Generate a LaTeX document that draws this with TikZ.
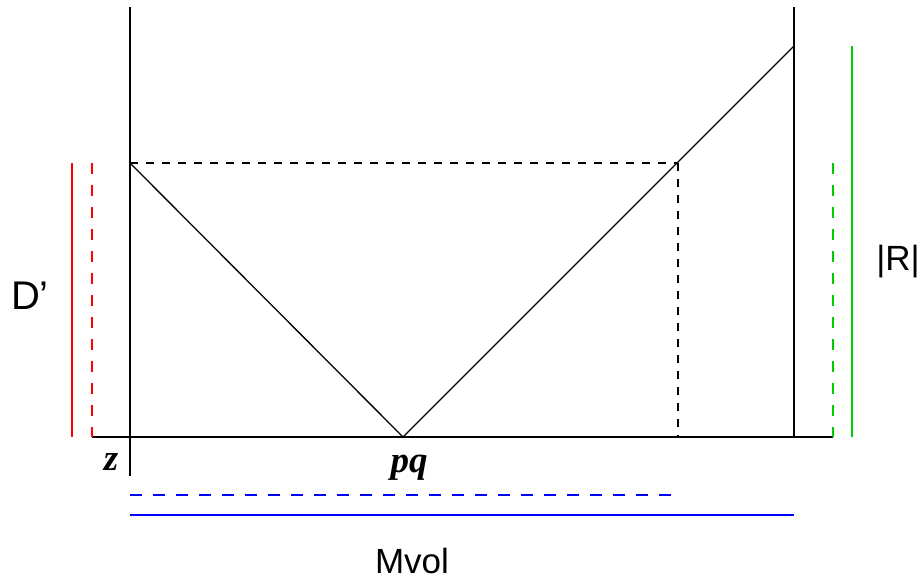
\documentclass[tikz,border=0pt]{standalone}
\usepackage{fontspec}
\setmainfont{Liberation Sans}
\newfontfamily\serifit{Liberation Serif}
\tikzset{
  blk/.style={line width=1.8pt, black},
  thin/.style={line width=1.3pt, black},
  blkdash/.style={line width=1.3pt, black, dash pattern=on 8pt off 8pt},
  col/.style={line width=2.5pt},
  coldash/.style={line width=2.5pt, dash pattern=on 11pt off 11pt},
  lab/.style={inner sep=0pt, font=\fontsize{35}{36}\selectfont},
  mlab/.style={inner sep=0pt, font=\fontsize{37}{38}\serifit\bfseries\itshape},
}
\begin{document}
\begin{tikzpicture}[x=1pt,y=-1pt]
\useasboundingbox (0,0) rectangle (922,583);
% coordinates
\coordinate (LT) at (130,7);
\coordinate (LB) at (130,476);
\coordinate (RT) at (794,7);
\coordinate (RB) at (794,437);
\coordinate (B0) at (92,437);
\coordinate (B1) at (833,437);
\coordinate (A) at (130,163);
\coordinate (V) at (403,437);
\coordinate (C) at (794,46);
\coordinate (E) at (678,163);
\coordinate (EB) at (678,437);
% axes
\draw[blk] (LT) -- (LB);
\draw[blk] (RT) -- (RB);
\draw[blk] (B0) -- (B1);
% V
\draw[thin] (A) -- (V) -- (C);
% dashed guides
\draw[blkdash] (A) -- (E);
\draw[blkdash] (E) -- (EB);
% red
\coordinate (r1t) at (72,163); \coordinate (r1b) at (72,437);
\coordinate (r2t) at (92,163); \coordinate (r2b) at (92,437);
\draw[col, red] (r1t) -- (r1b);
\draw[coldash, red] (r2t) -- (r2b);
% green
\coordinate (g1t) at (833,163); \coordinate (g1b) at (833,437);
\coordinate (g2t) at (852,46); \coordinate (g2b) at (852,437);
\draw[coldash, green!80!black] (g1t) -- (g1b);
\draw[col, green!80!black] (g2t) -- (g2b);
% blue
\coordinate (b1l) at (130,495); \coordinate (b1r) at (678,495);
\coordinate (b2l) at (130,515); \coordinate (b2r) at (794,515);
\draw[coldash, blue, dash pattern=on 12pt off 11pt] (b1l) -- (b1r);
\draw[col, blue] (b2l) -- (b2r);
% labels
\node[lab, font=\fontsize{40}{41}\selectfont] (Dl) at (30,296) {D’};
\node[lab] (Rl) at (898,262) {|R|};
\node[lab] (Ml) at (412,561) {Mvol};
\node[mlab] (zl) at (111,462) {z};
\node[mlab] (pql) at (409,468) {pq};
\end{tikzpicture}
\end{document}
